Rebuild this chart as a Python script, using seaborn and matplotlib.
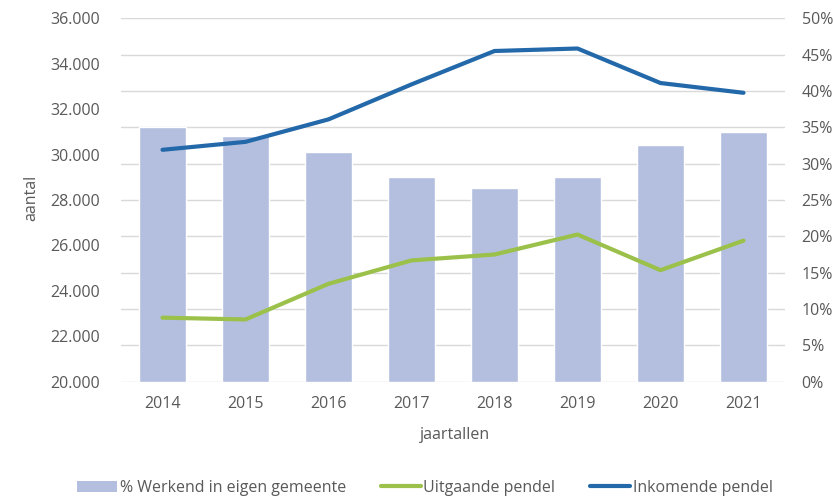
import matplotlib
matplotlib.use("Agg")
import matplotlib.pyplot as plt
import matplotlib.ticker as mticker
from matplotlib.patches import Patch
from matplotlib.lines import Line2D
import seaborn as sns
import pandas as pd

years = ["2014", "2015", "2016", "2017", "2018", "2019", "2020", "2021"]
pct_eigen = [35.0, 33.8, 31.6, 28.1, 26.7, 28.1, 32.5, 34.4]
uitgaande = [22820, 22740, 24310, 25340, 25600, 26480, 24910, 26210]
inkomende = [30210, 30560, 31550, 33090, 34560, 34670, 33150, 32720]

sns.set_theme(style="white")
plt.rcParams['font.family'] = ['Open Sans', 'DejaVu Sans']

grey = "#595959"
bar_c = "#B4BFDF"
green = "#9BC14A"
blue = "#2369AA"
fs = 11.5

df = pd.DataFrame({"jaar": years, "pct": pct_eigen, "uit": uitgaande, "in": inkomende})

W, H = 833, 497
fig = plt.figure(figsize=(W / 100, H / 100), dpi=100)
ax = fig.add_axes([121 / W, 1 - 381.7 / H, 664 / W, 363.4 / H])
sns.barplot(data=df, x="jaar", y="pct", color=bar_c, width=0.575, ax=ax, saturation=1, zorder=2)

ax2 = ax.twinx()
sns.lineplot(data=df, x="jaar", y="uit", color=green, linewidth=3, ax=ax2)
sns.lineplot(data=df, x="jaar", y="in", color=blue, linewidth=3, ax=ax2)

ax.set_ylim(0, 50)
ax.set_yticks(range(0, 51, 5))
ax.yaxis.set_major_formatter(mticker.FuncFormatter(lambda v, p: f"{int(v)}%"))
ax.yaxis.tick_right()
ax.grid(axis="y", color="#D9D9D9", linewidth=1, zorder=0)
ax.set_axisbelow(True)
ax.set_xlim(-0.5, 7.5)

ax2.set_ylim(20000, 36000)
ax2.set_yticks(range(20000, 36001, 2000))
ax2.yaxis.set_major_formatter(mticker.FuncFormatter(lambda v, p: f"{int(v):,}".replace(",", ".")))
ax2.yaxis.tick_left()
ax2.set_xlim(-0.5, 7.5)

ax.set_ylabel("")
ax2.set_ylabel("")
ax.set_xlabel("")
ax2.set_xlabel("")

for a in (ax, ax2):
    for s in a.spines.values():
        s.set_visible(False)
    a.tick_params(axis="both", length=0, colors=grey, labelsize=fs)
ax.tick_params(axis="y", pad=12)
ax2.tick_params(axis="y", pad=15)
ax.tick_params(axis="x", pad=10)

fig.text(31 / W, 1 - 198 / H, "aantal", rotation=90, ha="center", va="center",
         color=grey, fontsize=fs)
fig.text(455 / W, 1 - 435 / H, "jaartallen", ha="center", va="center",
         color=grey, fontsize=fs)

handles = [Patch(facecolor=bar_c, edgecolor="none"),
           Line2D([0], [0], color=green, linewidth=3),
           Line2D([0], [0], color=blue, linewidth=3)]
labels = ["% Werkend in eigen gemeente", "Uitgaande pendel", "Inkomende pendel"]
fig.legend(handles, labels, loc="center", bbox_to_anchor=(425 / W, 9 / H), ncol=3,
           frameon=False, fontsize=fs, labelcolor=grey, handlelength=2.5,
           columnspacing=2.2, handletextpad=0.15, borderpad=0)

fig.savefig("out.png", dpi=100)
